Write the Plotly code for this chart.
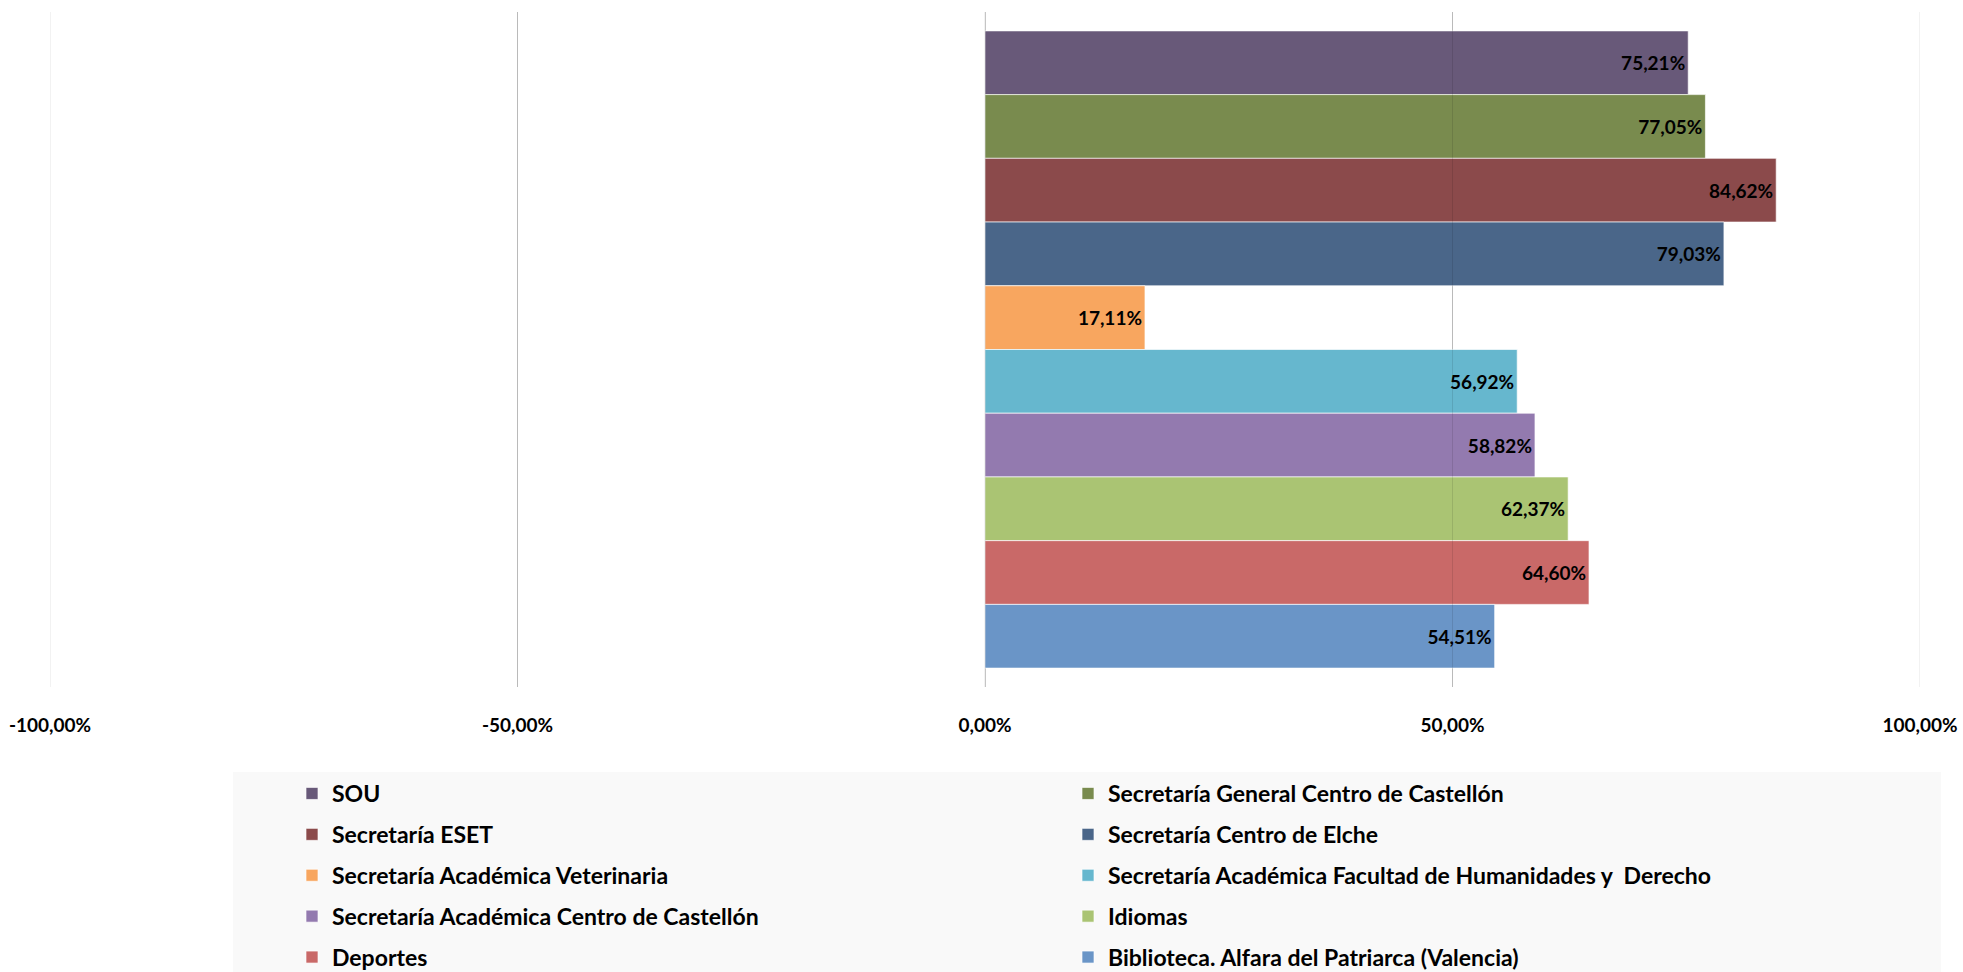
import plotly.graph_objects as go

# Satisfaction share per service (fraction of responses)
servicios = [
    "SOU",
    "Secretaría General Centro de Castellón",
    "Secretaría ESET",
    "Secretaría Centro de Elche",
    "Secretaría Académica Veterinaria",
    "Secretaría Académica Facultad de Humanidades y  Derecho",
    "Secretaría Académica Centro de Castellón",
    "Idiomas",
    "Deportes",
    "Biblioteca. Alfara del Patriarca (Valencia)",
]
valores = [0.7521, 0.7705, 0.8462, 0.7903, 0.1711, 0.5692, 0.5882, 0.6237, 0.6460, 0.5451]
colores = [
    "#685979", "#798B4E", "#8B4A4B", "#4A6689", "#F8A65F",
    "#66B7CE", "#937AAF", "#AAC473", "#C96968", "#6A95C7",
]

tick_vals = [-1.0, -0.5, 0.0, 0.5, 1.0]
tick_text = ["-100,00%", "-50,00%", "0,00%", "50,00%", "100,00%"]

FONT = "Lato, Liberation Sans, Arial, sans-serif"

W, H = 1963, 972
M_L, M_R, M_T, M_B = 50, 43, 12, 285
PW, PH = W - M_L - M_R, H - M_T - M_B


def px_x(px):
    return (px - M_L) / PW


def px_y(py):
    return 1 - (py - M_T) / PH


fig = go.Figure()
for i, (nombre, v, c) in enumerate(zip(servicios, valores, colores)):
    fig.add_trace(go.Bar(
        x=[v],
        y=["Servicios"],
        orientation="h",
        name=nombre,
        marker=dict(color=c, line=dict(color="rgba(255,255,255,0.65)", width=1)),
        texttemplate="%{x:.2%}",
        textposition="inside",
        insidetextanchor="end",
        textfont=dict(family=FONT, size=19, color="#000000", weight="bold"),
        legend="legend" if i % 2 == 0 else "legend2",
        legendgroup=f"g{i}",
        hoverinfo="skip",
    ))

# Subtle grid overlay that shows through the bars
shapes = [
    dict(type="line", xref="x", yref="paper", x0=t, x1=t, y0=0, y1=1,
         line=dict(color="rgba(0,0,0,0.10)", width=1), layer="above")
    for t in tick_vals
]
# Legend panel background
shapes.append(dict(
    type="rect", xref="paper", yref="paper",
    x0=px_x(233), x1=px_x(1941), y0=px_y(772), y1=px_y(990),
    fillcolor="#F9F9F9", line=dict(width=0), layer="below",
))

legend_common = dict(
    orientation="v",
    bgcolor="rgba(0,0,0,0)",
    font=dict(family=FONT, size=23, color="#000000", weight="bold"),
    tracegroupgap=8,
    yanchor="top",
    xanchor="left",
    itemclick=False,
)

fig.update_layout(
    width=W, height=H,
    margin=dict(l=M_L, r=M_R, t=M_T, b=M_B, autoexpand=False),
    paper_bgcolor="#FFFFFF",
    plot_bgcolor="#FFFFFF",
    separators=",.",
    barmode="group",
    bargap=0.056,
    bargroupgap=0,
    showlegend=True,
    shapes=shapes,
    xaxis=dict(
        range=[-1, 1],
        tickvals=tick_vals,
        ticktext=tick_text,
        showgrid=True,
        gridcolor="#D0D0D0",
        gridwidth=1,
        zeroline=False,
        showline=False,
        ticks="",
        ticklabelstandoff=25,
        tickfont=dict(family=FONT, size=19, color="#000000", weight="bold"),
    ),
    yaxis=dict(
        type="category",
        autorange="reversed",
        visible=False,
    ),
    legend=dict(**legend_common, x=px_x(292), y=px_y(772)),
    legend2=dict(**legend_common, x=px_x(1068), y=px_y(772)),
)

fig.write_html("out.html")
